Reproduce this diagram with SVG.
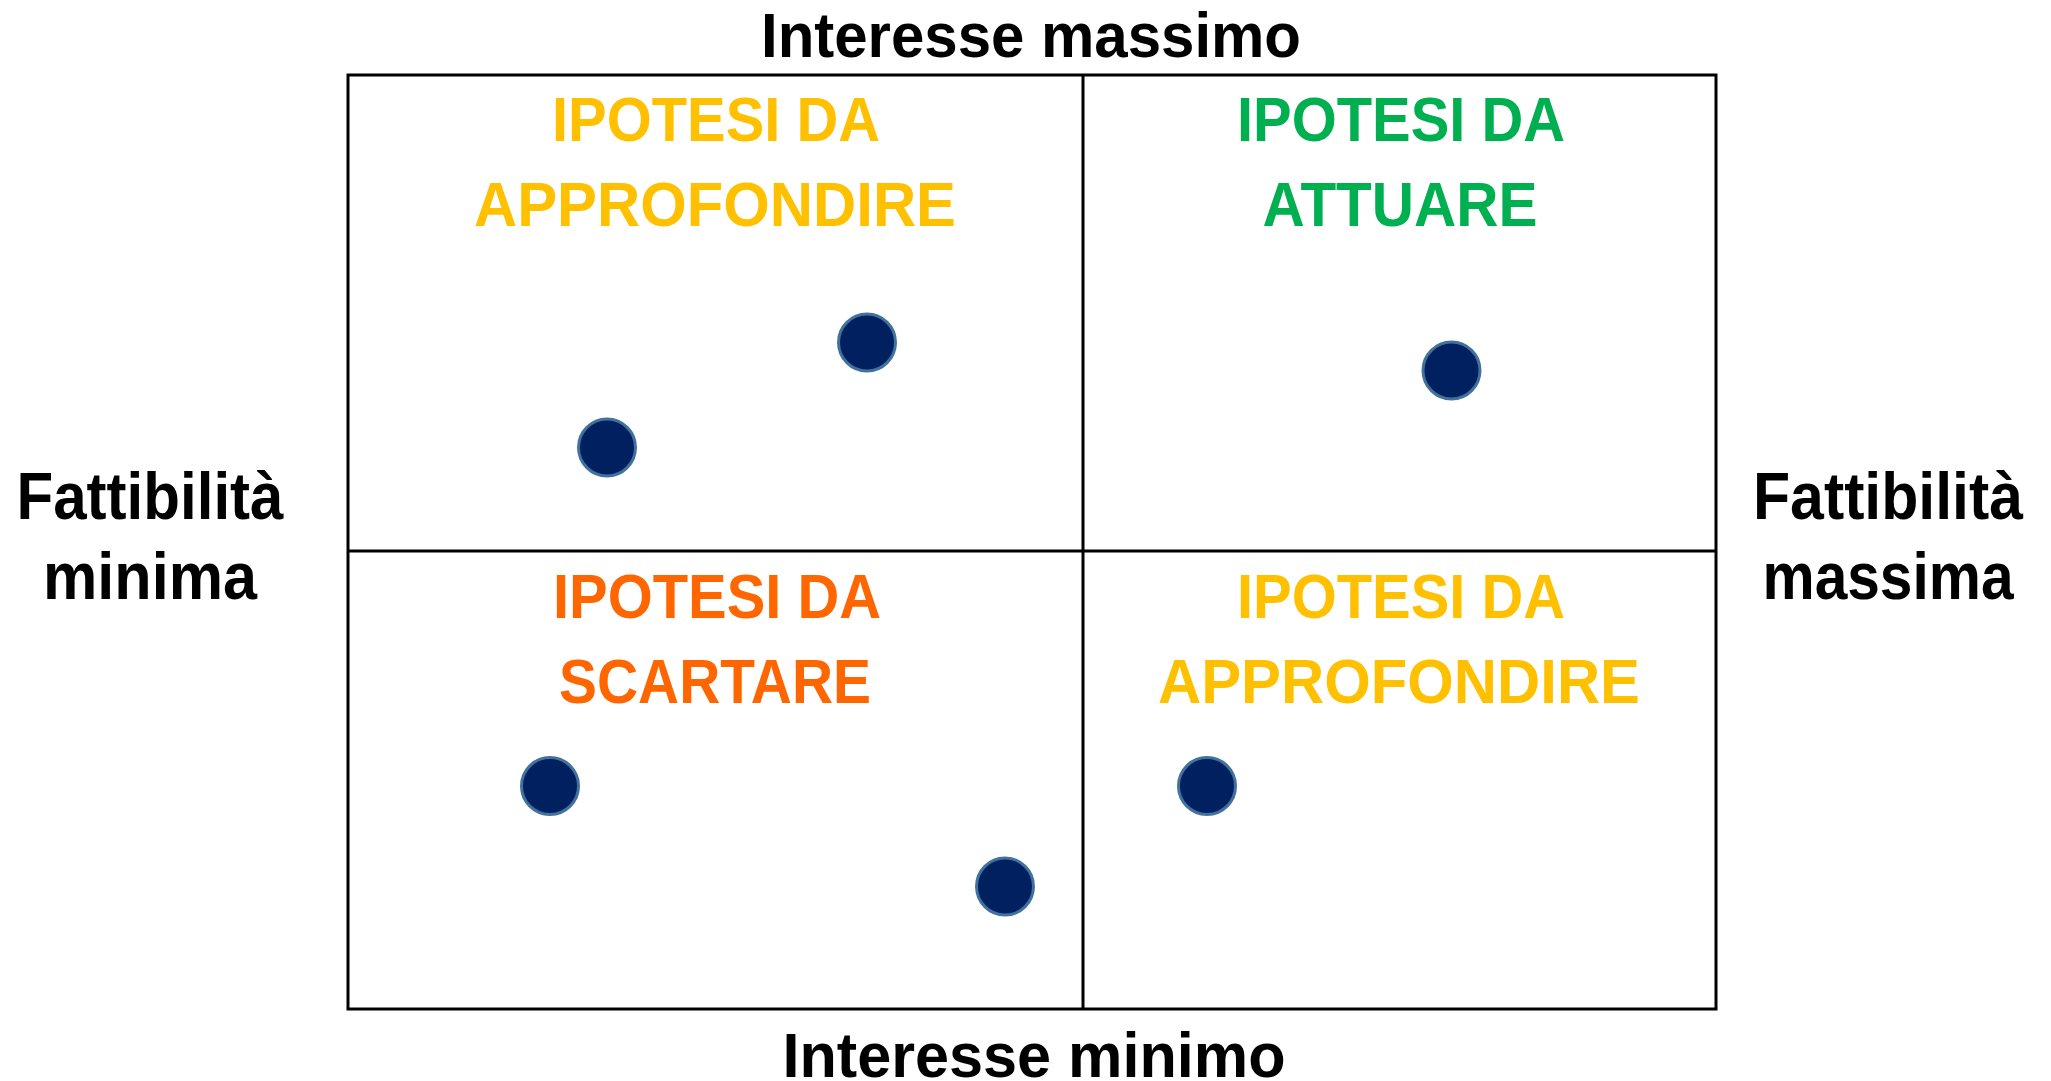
<svg xmlns="http://www.w3.org/2000/svg" width="2051" height="1081" viewBox="0 0 2051 1081">
<style>
.lbl{font-family:"Liberation Sans",Arial,sans-serif;font-weight:bold;text-anchor:middle}
.axis{font-size:63px;fill:#000}
.side{font-size:66px;fill:#000}
.q{font-size:63px}
.yel{fill:#FFC000}
.grn{fill:#00B050}
.org{fill:#FF6600}
.grid{stroke:#000;stroke-width:3;fill:none}
.dot{fill:#002060;stroke:#41719C;stroke-width:3}
</style>
<rect width="2051" height="1081" fill="#fff"/>
<g id="grid" class="grid">
<rect x="348" y="75" width="1368" height="934"/>
<line x1="1083" y1="75" x2="1083" y2="1009"/>
<line x1="348" y1="551" x2="1716" y2="551"/>
</g>
<g id="axis-top"><text class="lbl axis" x="1031" y="57" textLength="540" lengthAdjust="spacingAndGlyphs">Interesse massimo</text></g>
<g id="axis-bottom"><text class="lbl axis" x="1034" y="1077" textLength="503" lengthAdjust="spacingAndGlyphs">Interesse minimo</text></g>
<g id="axis-left">
<text class="lbl side" x="150" y="519" textLength="267" lengthAdjust="spacingAndGlyphs">Fattibilità</text>
<text class="lbl side" x="150" y="599" textLength="214" lengthAdjust="spacingAndGlyphs">minima</text>
</g>
<g id="axis-right">
<text class="lbl side" x="1888" y="519" textLength="270" lengthAdjust="spacingAndGlyphs">Fattibilità</text>
<text class="lbl side" x="1888" y="599" textLength="251" lengthAdjust="spacingAndGlyphs">massima</text>
</g>
<g id="q-top-left">
<text class="lbl q yel" x="716" y="141" textLength="328" lengthAdjust="spacingAndGlyphs">IPOTESI DA</text>
<text class="lbl q yel" x="715" y="226" textLength="482" lengthAdjust="spacingAndGlyphs">APPROFONDIRE</text>
</g>
<g id="q-top-right">
<text class="lbl q grn" x="1401" y="141" textLength="328" lengthAdjust="spacingAndGlyphs">IPOTESI DA</text>
<text class="lbl q grn" x="1400" y="226" textLength="275" lengthAdjust="spacingAndGlyphs">ATTUARE</text>
</g>
<g id="q-bottom-left">
<text class="lbl q org" x="717" y="618" textLength="328" lengthAdjust="spacingAndGlyphs">IPOTESI DA</text>
<text class="lbl q org" x="715" y="703" textLength="312" lengthAdjust="spacingAndGlyphs">SCARTARE</text>
</g>
<g id="q-bottom-right">
<text class="lbl q yel" x="1401" y="618" textLength="328" lengthAdjust="spacingAndGlyphs">IPOTESI DA</text>
<text class="lbl q yel" x="1399" y="703" textLength="482" lengthAdjust="spacingAndGlyphs">APPROFONDIRE</text>
</g>
<g id="dot-1"><circle class="dot" cx="867" cy="342.5" r="28.5"/></g>
<g id="dot-2"><circle class="dot" cx="607" cy="447.5" r="28.5"/></g>
<g id="dot-3"><circle class="dot" cx="1451.5" cy="370.5" r="28.5"/></g>
<g id="dot-4"><circle class="dot" cx="550" cy="786" r="28.5"/></g>
<g id="dot-5"><circle class="dot" cx="1005" cy="886.5" r="28.5"/></g>
<g id="dot-6"><circle class="dot" cx="1207" cy="786" r="28.5"/></g>
</svg>
